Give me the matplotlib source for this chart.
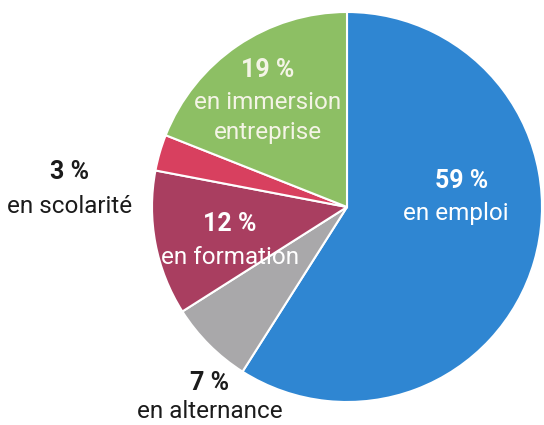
import matplotlib
matplotlib.use("Agg")
import matplotlib.pyplot as plt

# situation des sortants, en % (sens horaire depuis midi)
labels = ["en emploi", "en alternance", "en formation", "en scolarité", "en immersion\nentreprise"]
values = [59, 7, 12, 3, 19]
colors = ["#2f86d2", "#a9a8aa", "#a93e60", "#d8405f", "#8dbf64"]

W, H = 544, 425
CX, CY, R = 347, 207, 195


def px(x, y):
    # pixel position -> data coords (pie radius 1 at the origin)
    return (x - CX) / R, (CY - y) / R


fig = plt.figure(figsize=(W / 100, H / 100), dpi=100)
ax = fig.add_axes([0, 0, 1, 1])
ax.pie(values, colors=colors, startangle=90, counterclock=False,
       wedgeprops=dict(edgecolor="white", linewidth=1.5))
ax.set_aspect("equal")
ax.set_xlim(-CX / R, (W - CX) / R)
ax.set_ylim(-(H - CY) / R, CY / R)
ax.axis("off")

# label anchors (pixel centre of the "xx %" line), line gap and text colour
anchors = [(462, 181), (210, 383), (230, 224), (70, 172), (268, 70)]
gaps = [32, 28, 33, 34, 32]
tcolors = ["white", "#1b1b1b", "white", "#1b1b1b", "#f4f4e6"]

font = "Roboto"
for lab, v, (x, y), g, c in zip(labels, values, anchors, gaps, tcolors):
    ax.text(*px(x, y), f"{v} %", ha="center", va="center", color=c,
            fontsize=18, fontweight="bold", family=font)
    for i, line in enumerate(lab.split("\n")):
        ax.text(*px(x - 6 if v == 59 else x, y + g + 30 * i), line,
                ha="center", va="center", color=c, fontsize=17.5, family=font)

fig.savefig("out.png", dpi=100, facecolor="white")
